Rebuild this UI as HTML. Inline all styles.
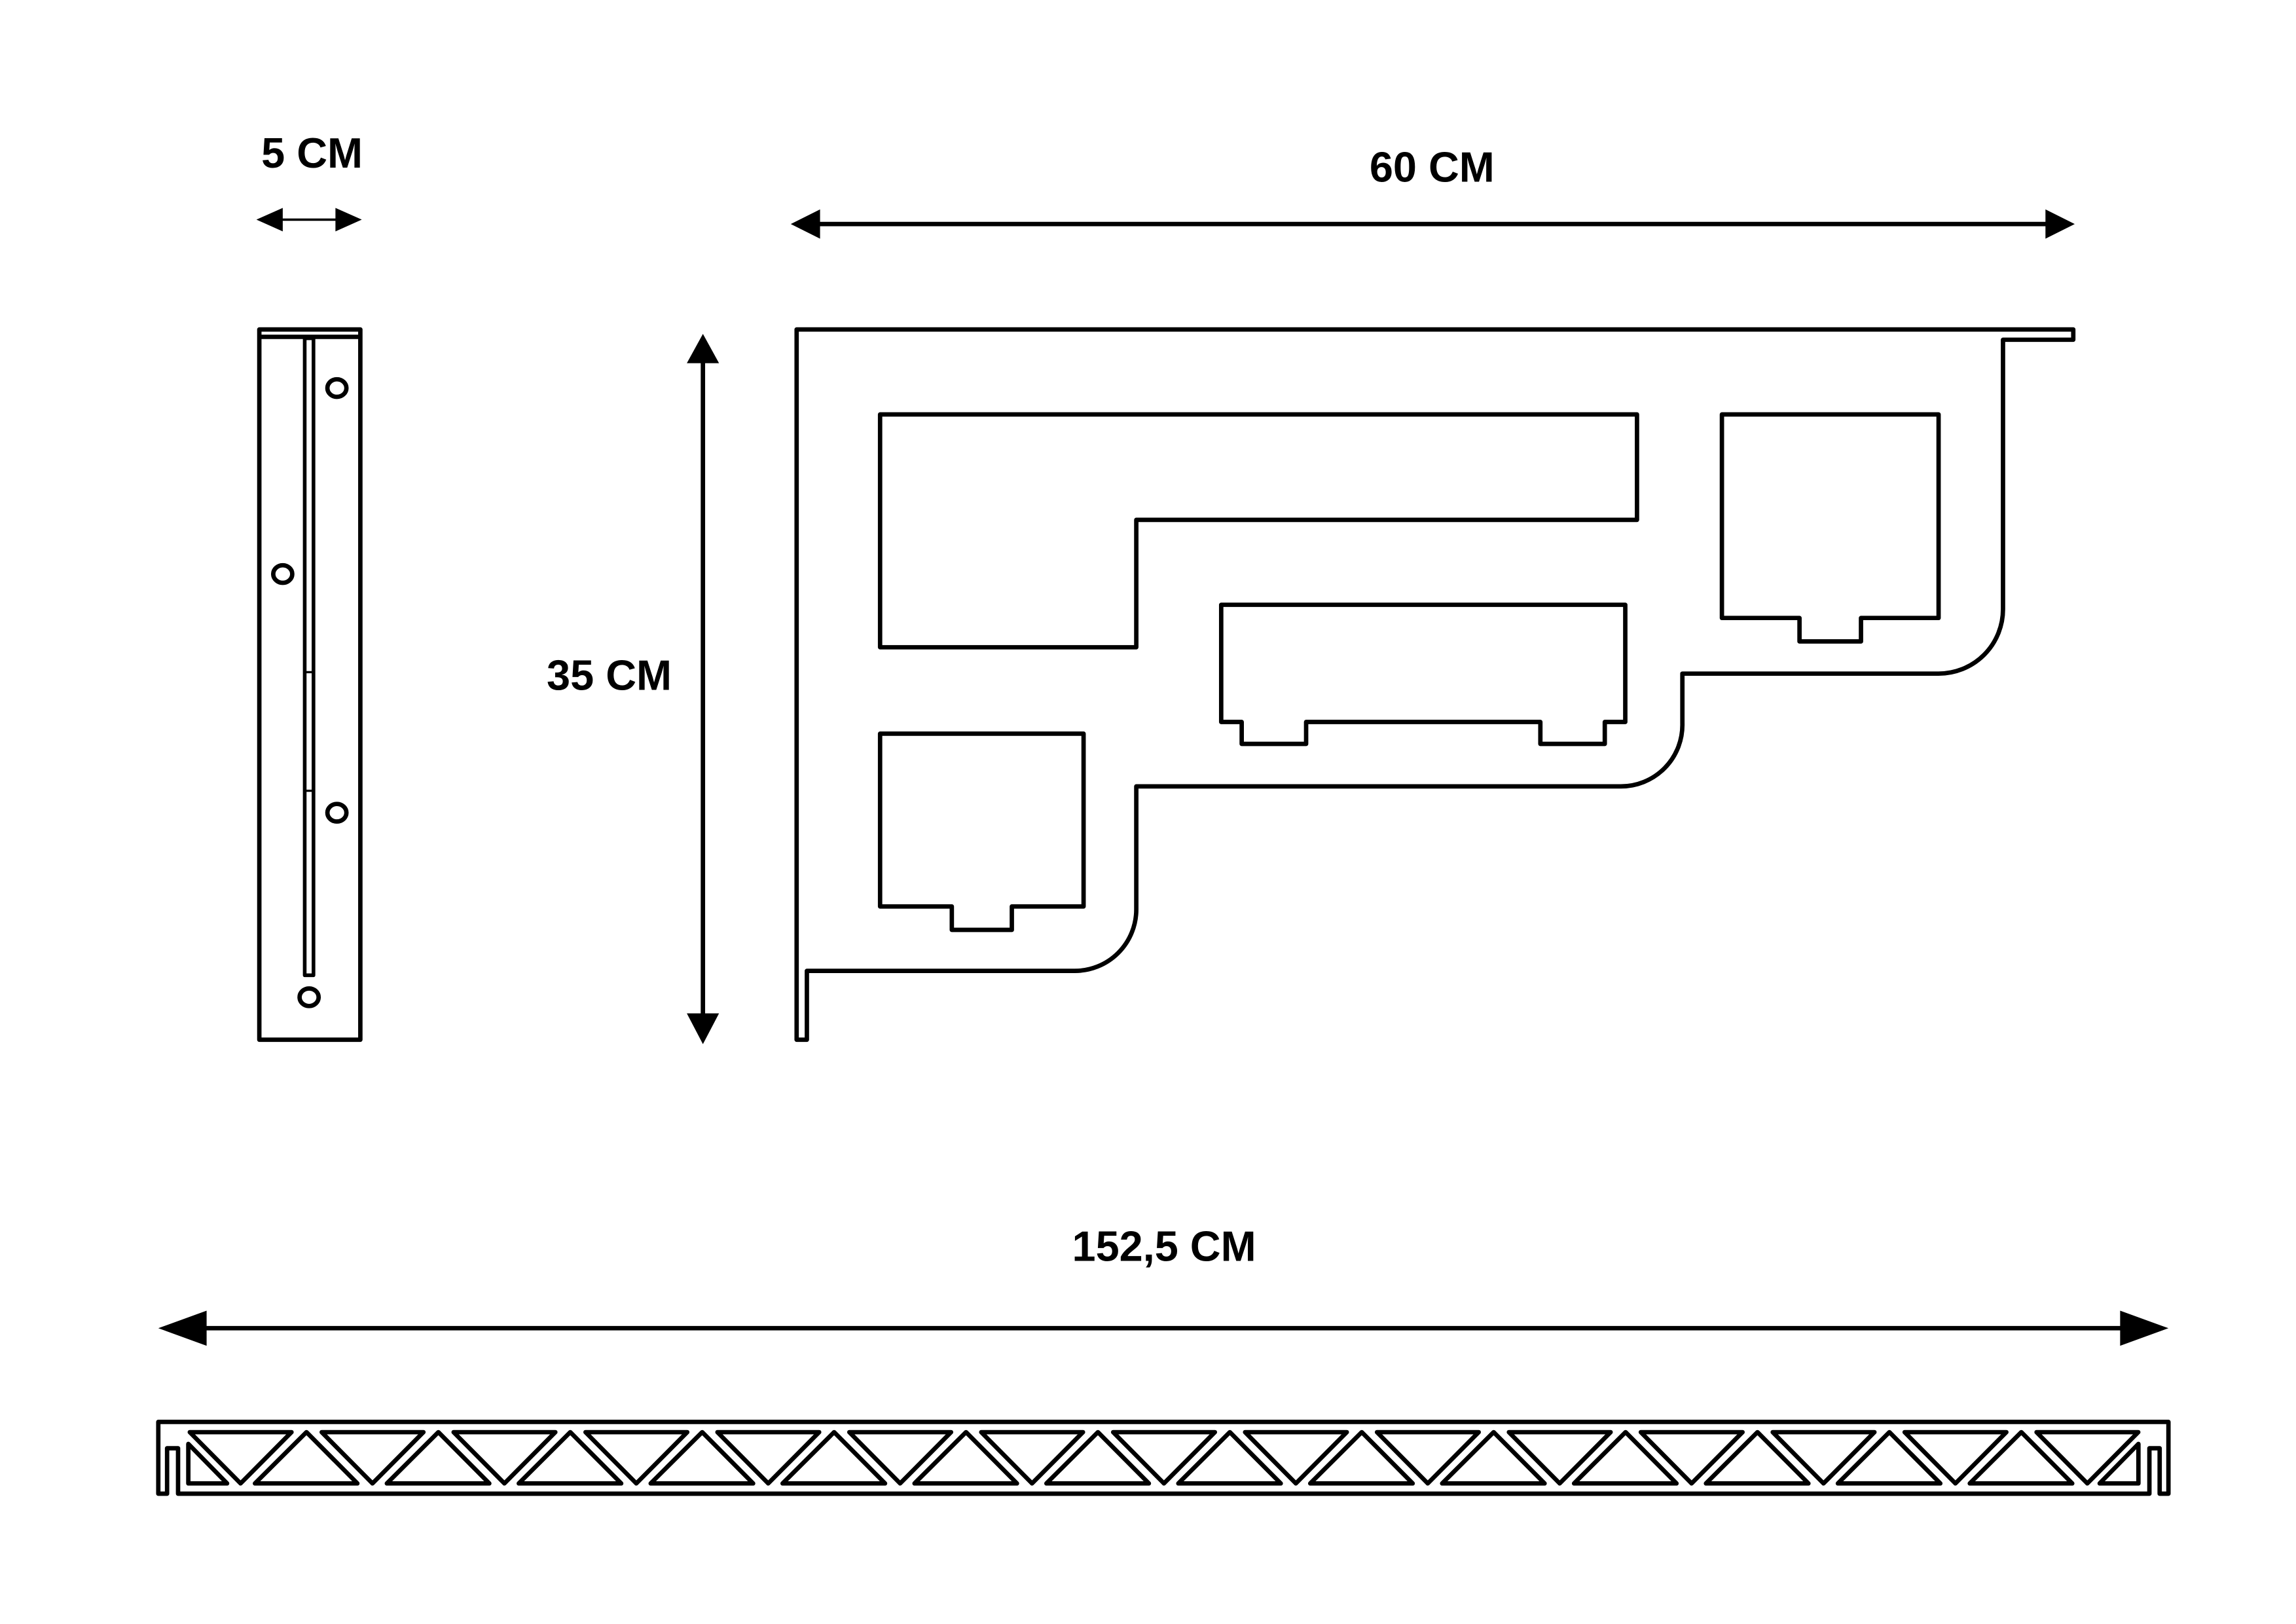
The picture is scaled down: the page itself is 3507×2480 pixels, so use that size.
<!DOCTYPE html>
<html><head><meta charset="utf-8"><style>
html,body{margin:0;padding:0;background:#fff;}
svg{display:block;}
text{font-family:"Liberation Sans",sans-serif;font-weight:bold;font-size:29px;fill:#000;}
</style></head><body>
<svg width="3507" height="2480" viewBox="0 0 1568 1109" xmlns="http://www.w3.org/2000/svg">
<g fill="none" stroke="#000" stroke-width="3" stroke-linejoin="round">
<!-- side view -->
<rect x="177" y="225" width="69" height="485"/>
<line x1="177" y1="230" x2="246" y2="230"/>
<rect x="208" y="231" width="6" height="435" stroke-width="2.5"/>
<line x1="208" y1="459" x2="214" y2="459" stroke-width="1.5"/>
<line x1="208" y1="540" x2="214" y2="540" stroke-width="1.5"/>
<ellipse cx="230" cy="265" rx="6.5" ry="6"/>
<ellipse cx="193" cy="392" rx="6.5" ry="6"/>
<ellipse cx="230" cy="555" rx="6.5" ry="6"/>
<ellipse cx="211" cy="681" rx="6.5" ry="6"/>
<!-- main bracket -->
<path d="M544,710 V225 H1416 V232 H1368 V416 A44,44 0 0 1 1324,460 H1149 V494 A42,42 0 0 1 1107,537 H776 V621 A42,42 0 0 1 734,663 H551 V710 Z"/>
<path d="M601,283 H1118 V355 H776 V442 H601 Z"/>
<path d="M834,413 H1110 V493 H1096 V508 H1052 V493 H892 V508 H848 V493 H834 Z"/>
<path d="M1176,283 H1324 V422 H1271 V438 H1229 V422 H1176 Z"/>
<path d="M601,501 H740 V619 H691 V635 H650 V619 H601 Z"/>
<!-- bottom bar -->
<path d="M108,971 H1481 V1020 H1475 V989 H1468 V1020 H121.5 V989 H114 V1020 H108 Z"/>
<path d="M128.5,986 L155,1013 H128.5 Z"/>
<path d="M1460.5,986 L1434,1013 H1460.5 Z"/>
<path id="tris" d=""/>
</g>
<g fill="none" stroke="#000" stroke-width="3" stroke-linejoin="round">
<path d="
M129.5,978 H199 L164.2,1013 Z M174,1013 L209.2,978 L244,1013 Z
M219.6,978 H289.1 L254.3,1013 Z M264.1,1013 L299.3,978 L334.1,1013 Z
M309.7,978 H379.2 L344.4,1013 Z M354.2,1013 L389.4,978 L424.2,1013 Z
M399.8,978 H469.3 L434.5,1013 Z M444.3,1013 L479.5,978 L514.3,1013 Z
M489.9,978 H559.4 L524.6,1013 Z M534.4,1013 L569.6,978 L604.4,1013 Z
M580,978 H649.5 L614.7,1013 Z M624.5,1013 L659.7,978 L694.5,1013 Z
M670.1,978 H739.6 L704.8,1013 Z M714.6,1013 L749.8,978 L784.6,1013 Z
M760.2,978 H829.7 L794.9,1013 Z M804.7,1013 L839.9,978 L874.7,1013 Z
M850.3,978 H919.8 L885,1013 Z M894.8,1013 L930,978 L964.8,1013 Z
M940.4,978 H1009.9 L975.1,1013 Z M984.9,1013 L1020.1,978 L1054.9,1013 Z
M1030.5,978 H1100 L1065.2,1013 Z M1075,1013 L1110.2,978 L1145,1013 Z
M1120.6,978 H1190.1 L1155.3,1013 Z M1165.1,1013 L1200.3,978 L1235.1,1013 Z
M1210.7,978 H1280.2 L1245.4,1013 Z M1255.2,1013 L1290.4,978 L1325.2,1013 Z
M1300.8,978 H1370.3 L1335.5,1013 Z M1345.3,1013 L1380.5,978 L1415.3,1013 Z
M1390.9,978 H1460.4 L1425.6,1013 Z"/>
</g>
<!-- dimension arrows -->
<g stroke="#000" fill="#000">
<line x1="185" y1="150" x2="238" y2="150" stroke-width="1.6"/>
<polygon points="175,150 193,142 193,158" stroke="none"/>
<polygon points="247,150 229,142 229,158" stroke="none"/>
<line x1="555" y1="153" x2="1402" y2="153" stroke-width="3"/>
<polygon points="540,153 560,143 560,163" stroke="none"/>
<polygon points="1417,153 1397,143 1397,163" stroke="none"/>
<line x1="480" y1="240" x2="480" y2="700" stroke-width="3"/>
<polygon points="480,228 469,248 491,248" stroke="none"/>
<polygon points="480,713 469,692 491,692" stroke="none"/>
<line x1="125" y1="907" x2="1465" y2="907" stroke-width="3"/>
<polygon points="108,907 141,895 141,919" stroke="none"/>
<polygon points="1481,907 1448,895 1448,919" stroke="none"/>
</g>
<text x="213" y="114.5" text-anchor="middle">5 CM</text>
<text x="978" y="124" text-anchor="middle">60 CM</text>
<text x="416" y="471" text-anchor="middle">35 CM</text>
<text x="795" y="861" text-anchor="middle">152,5 CM</text>
</svg>
</body></html>
